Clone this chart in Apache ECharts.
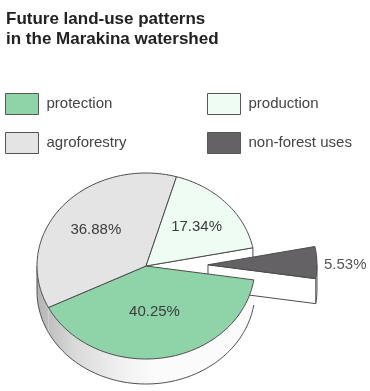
<!DOCTYPE html>
<html>
<head>
<meta charset="utf-8">
<script src="https://cdn.jsdelivr.net/npm/echarts@6/dist/echarts.min.js"></script>
<style>html,body{margin:0;padding:0;background:#fff;}#c{width:370px;height:391px;}</style>
</head>
<body>
<div id="c"></div>
<script>
// ---- data ----
const categories = ['protection', 'agroforestry', 'production', 'non-forest uses'];
const shares = [40.25, 36.88, 17.34, 5.53];
const legendLeft = ['protection', 'agroforestry'];
const legendRight = ['production', 'non-forest uses'];
const titleLines = ['Future land-use patterns', 'in the Marakina watershed'];

// ---- styling / layout ----
const colors = ['#8fd4a9', '#e5e4e4', '#effcf3', '#646264'];
const G = { cx: 146, cy: 266, rx: 109, ry: 93, depth: 25, start: 8.6, explode: 62 };
const labelFactor = [0.5, 0.6, 0.63];
const FONT = "'Liberation Sans', Arial, Helvetica, sans-serif";
const STROKE = '#4d4d4d';
const explodedIndex = 3;

const total = shares.reduce((a, b) => a + b, 0);
const bounds = [];
let acc = G.start;
shares.forEach(v => { const a = acc; acc += v / total * 360; bounds.push([a, acc]); });

function pt(theta, ox, oy, dy) {
  const t = theta * Math.PI / 180;
  return [G.cx + ox + G.rx * Math.cos(t), G.cy + oy + dy + G.ry * Math.sin(t)];
}
function arc(a, b, ox, oy, dy) {
  const pts = [];
  const n = Math.max(2, Math.ceil(Math.abs(b - a) / 1.5));
  for (let i = 0; i <= n; i++) pts.push(pt(a + (b - a) * i / n, ox, oy, dy));
  return pts;
}
const sideGradient = {
  type: 'linear', global: true, x: G.cx - G.rx, y: 0, x2: G.cx + 10, y2: 0,
  colorStops: [
    { offset: 0, color: '#b4b4b4' },
    { offset: 0.3, color: '#d8d8d8' },
    { offset: 0.7, color: '#f0f0f0' },
    { offset: 1, color: '#fbfbfb' }
  ]
};

function renderItem(params, api) {
  const idx = params.seriesIndex;
  const [a, b] = bounds[idx];
  const exploded = idx === explodedIndex;
  let ox = 0, oy = 0;
  const mid = (a + b) / 2;
  if (exploded) {
    ox = G.explode * Math.cos(mid * Math.PI / 180);
    oy = G.explode * (G.ry / G.rx) * Math.sin(mid * Math.PI / 180);
  }
  const d = G.depth;
  const C = [G.cx + ox, G.cy + oy];
  const Cd = [G.cx + ox, G.cy + oy + d];
  const children = [];
  const zSide = exploded ? 20 : 5;

  [0, 360].forEach(base => {
    const s = Math.max(a, base), e = Math.min(b, base + 180);
    if (e > s) {
      children.push({
        type: 'polygon', z2: zSide,
        shape: { points: arc(s, e, ox, oy, 0).concat(arc(e, s, ox, oy, d)) },
        style: { fill: exploded ? '#ffffff' : sideGradient, stroke: null }
      });
      children.push({
        type: 'polyline', z2: zSide + 1,
        shape: { points: arc(s, e, ox, oy, d) },
        style: { stroke: STROKE, lineWidth: 1, fill: null }
      });
      if (e === base + 180 || (exploded && s === base)) {
        const th = e === base + 180 ? e : s;
        const p = pt(th, ox, oy, 0);
        children.push({
          type: 'line', z2: zSide + 1,
          shape: { x1: p[0], y1: p[1], x2: p[0], y2: p[1] + d },
          style: { stroke: STROKE, lineWidth: 1 }
        });
      }
    }
  });

  if (exploded || idx === explodedIndex - 1) {
    const pb = pt(b, ox, oy, 0);
    children.push({
      type: 'polygon', z2: exploded ? 21 : 10,
      shape: { points: [C, pb, [pb[0], pb[1] + d], Cd] },
      style: { fill: '#ffffff', stroke: STROKE, lineWidth: 1 }
    });
  }

  children.push({
    type: 'polygon', z2: exploded ? 25 : 30,
    shape: { points: [C].concat(arc(a, b, ox, oy, 0)) },
    style: { fill: colors[idx], stroke: STROKE, lineWidth: 1, lineJoin: 'round' }
  });

  const value = api.value(0);
  const txt = value.toFixed(2) + '%';
  if (!exploded) {
    const f = labelFactor[idx];
    const t = mid * Math.PI / 180;
    children.push({
      type: 'text', z2: 40,
      x: G.cx + f * G.rx * Math.cos(t), y: G.cy + f * G.ry * Math.sin(t),
      style: { text: txt, fill: '#3c3c3c', fontSize: 15, fontFamily: FONT, align: 'center', verticalAlign: 'middle' }
    });
  } else {
    const p = pt(mid, ox, oy, 0);
    children.push({
      type: 'text', z2: 40,
      x: p[0] + 7, y: p[1] + 2,
      style: { text: txt, fill: '#555555', fontSize: 15, fontFamily: FONT, align: 'left', verticalAlign: 'middle' }
    });
  }
  return { type: 'group', children };
}

const chart = echarts.init(document.getElementById('c'), null, { renderer: 'canvas' });
const legendCommon = {
  orient: 'vertical', top: 93, itemWidth: 33, itemHeight: 21, itemGap: 17,
  icon: 'rect', selectedMode: false, padding: 0,
  itemStyle: { borderColor: '#555', borderWidth: 1 },
  textStyle: { fontSize: 15, color: '#444', fontFamily: FONT, padding: [0, 0, 0, 3] }
};
chart.setOption({
  animation: false,
  backgroundColor: '#fff',
  title: {
    text: titleLines.join('\n'), left: 6, top: 10, padding: 0,
    textStyle: { fontSize: 17, fontWeight: 'bold', color: '#222', fontFamily: FONT, lineHeight: 19.5 }
  },
  legend: [
    Object.assign({}, legendCommon, { left: 5, data: legendLeft }),
    Object.assign({}, legendCommon, { left: 207, data: legendRight })
  ],
  series: categories.map((name, i) => ({
    type: 'custom', name, coordinateSystem: 'none',
    itemStyle: { color: colors[i] },
    renderItem, data: [[shares[i]]]
  }))
});
</script>
</body>
</html>
